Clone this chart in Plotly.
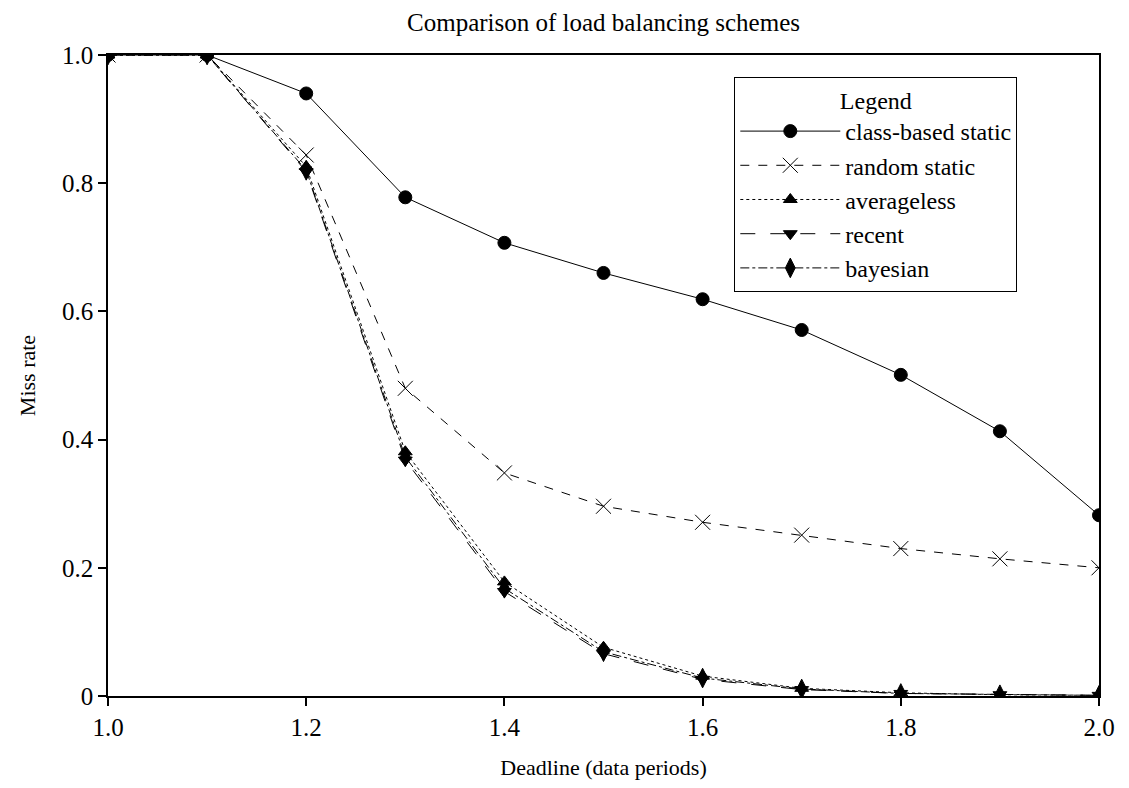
import plotly.graph_objects as go

deadline = [1.0, 1.1, 1.2, 1.3, 1.4, 1.5, 1.6, 1.7, 1.8, 1.9, 2.0]
class_based_static = [1.0, 1.0, 0.94, 0.778, 0.707, 0.66, 0.619, 0.571, 0.501, 0.413, 0.282]
random_static = [1.0, 1.0, 0.844, 0.48, 0.348, 0.296, 0.271, 0.251, 0.23, 0.214, 0.2]
averageless = [1.0, 1.0, 0.826, 0.381, 0.178, 0.076, 0.031, 0.012, 0.005, 0.002, 0.001]
recent = [1.0, 1.0, 0.818, 0.368, 0.163, 0.066, 0.026, 0.010, 0.004, 0.002, 0.001]
bayesian = [1.0, 1.0, 0.82, 0.373, 0.168, 0.069, 0.028, 0.011, 0.004, 0.002, 0.001]

x_ticks = [1.0, 1.2, 1.4, 1.6, 1.8, 2.0]
x_ticklabels = ["1.0", "1.2", "1.4", "1.6", "1.8", "2.0"]
y_ticks = [0, 0.2, 0.4, 0.6, 0.8, 1.0]
y_ticklabels = ["0", "0.2", "0.4", "0.6", "0.8", "1.0"]

FONT = "Liberation Serif"

series = [
    ("class-based static", class_based_static, "solid", "circle", 13),
    ("random static", random_static, "dash", "x-thin-open", 15),
    ("averageless", averageless, "dot", "triangle-up", 12),
    ("recent", recent, "longdash", "triangle-down", 12),
    ("bayesian", bayesian, "dashdot", "diamond-tall", 14),
]

fig = go.Figure()
for name, vals, dash, sym, size in series:
    fig.add_trace(go.Scatter(
        x=deadline, y=vals, name=name, mode="lines+markers",
        line=dict(color="black", width=1, dash=dash),
        marker=dict(symbol=sym, size=size, color="black",
                    line=dict(color="black", width=1)),
    ))

axis_common = dict(
    showline=True, linecolor="black", linewidth=1.5, mirror=True,
    ticks="outside", ticklen=8, tickwidth=2, tickcolor="black",
    showgrid=False, zeroline=False, ticklabeloverflow="allow",
    automargin=False,
    tickfont=dict(family=FONT, size=25, color="black"),
)

fig.update_layout(
    width=1129, height=788, autosize=False,
    paper_bgcolor="white", plot_bgcolor="white",
    margin=dict(l=108, r=30, t=55, b=92, autoexpand=False),
    title=dict(text="Comparison of load balancing schemes",
               xref="paper", x=0.5, xanchor="center",
               yref="container", y=0.972, yanchor="middle",
               font=dict(family=FONT, size=25, color="black")),
    font=dict(family=FONT, color="black"),
    xaxis=dict(range=[1.0, 2.0], tickvals=x_ticks, ticktext=x_ticklabels,
               title=dict(text="Deadline (data periods)", font=dict(family=FONT, size=22), standoff=20),
               **axis_common),
    yaxis=dict(range=[0, 1.0], tickvals=y_ticks, ticktext=y_ticklabels,
               title=dict(text="Miss rate", font=dict(family=FONT, size=22), standoff=20),
               **axis_common),
    legend=dict(
        x=0.632, y=0.966, xanchor="left", yanchor="top",
        bordercolor="black", borderwidth=1, bgcolor="white",
        font=dict(family=FONT, size=24, color="black"),
        title=dict(text="Legend", side="top center", font=dict(family=FONT, size=24)),
        itemwidth=100, tracegroupgap=0,
    ),
    showlegend=True,
)

fig.write_html(
    "out.html",
    config={"displayModeBar": False, "responsive": False},
    post_script=("document.documentElement.style.overflow='hidden';"
                 "document.body.style.overflow='hidden';"
                 "document.body.style.margin='0';"),
)
